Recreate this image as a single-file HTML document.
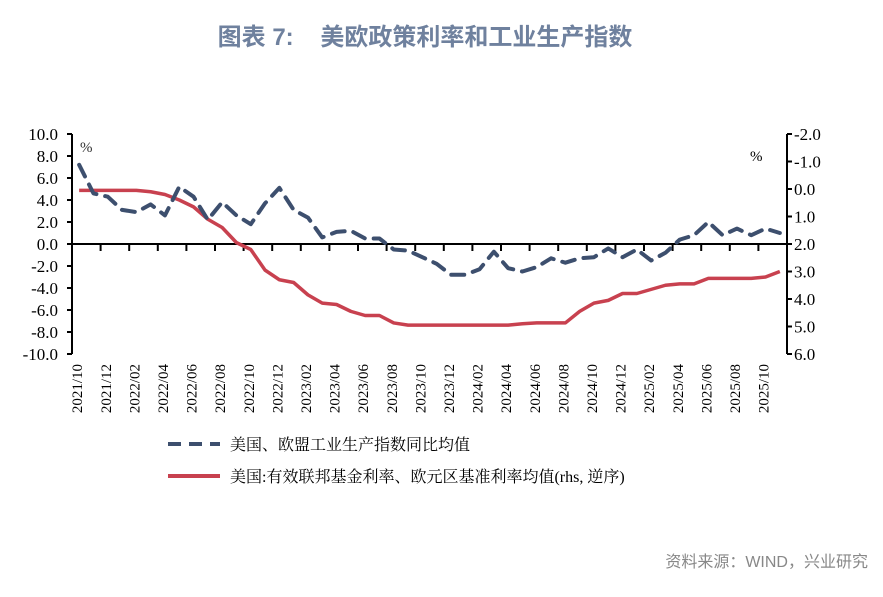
<!DOCTYPE html>
<html><head><meta charset="utf-8"><style>
body{margin:0;background:#fff;width:883px;height:592px;overflow:hidden;font-family:"Liberation Serif","Noto Serif CJK SC",serif;}
</style></head><body>
<svg id="c" width="883" height="592" xmlns="http://www.w3.org/2000/svg">
<text x="425" y="45" text-anchor="middle" font-family="Liberation Sans,Noto Sans CJK SC,sans-serif" font-size="24" font-weight="bold" fill="#6f819e">图表 7:&#160;&#160;&#160;&#160;美欧政策利率和工业生产指数</text>
<g id="axes"></g><g id="marks"></g>
<g>
<line x1="168" y1="444" x2="220" y2="444" stroke="#3d4f6e" stroke-width="4" stroke-dasharray="13,8"/>
<text x="230" y="450" font-size="16" font-family="Liberation Serif,Noto Serif CJK SC,serif" fill="#000">美国、欧盟工业生产指数同比均值</text>
<line x1="168" y1="476" x2="220" y2="476" stroke="#c8414f" stroke-width="4"/>
<text x="230" y="482" font-size="16" font-family="Liberation Serif,Noto Serif CJK SC,serif" fill="#000">美国:有效联邦基金利率、欧元区基准利率均值(rhs, 逆序)</text>
</g>
<text x="868" y="567" text-anchor="end" font-size="16" font-family="Liberation Sans,Noto Sans CJK SC,sans-serif" fill="#888">资料来源：WIND，兴业研究</text>
</svg>
<script>
const months=[];for(let y=2021,m=10;months.length<50;){months.push(y+'/'+String(m).padStart(2,'0'));m++;if(m>12){m=1;y++;}}
const leftTicks=[10,8,6,4,2,0,-2,-4,-6,-8,-10];
const rightTicks=[-2,-1,0,1,2,3,4,5,6];
const ipValues=[7.2,4.6,4.3,3.1,2.9,3.6,2.6,5.2,4.3,2.2,3.8,2.6,1.8,3.7,5.1,3.1,2.4,0.6,1.1,1.2,0.5,0.5,-0.5,-0.6,-1.2,-1.8,-2.8,-2.8,-2.3,-0.7,-2.2,-2.5,-2.1,-1.3,-1.7,-1.3,-1.2,-0.4,-1.2,-0.5,-1.5,-0.8,0.4,0.8,2.0,0.8,1.4,0.8,1.4,1.0];
const rateValues=[0.05,0.05,0.05,0.05,0.05,0.1,0.2,0.4,0.65,1.1,1.4,1.95,2.2,2.95,3.3,3.4,3.85,4.15,4.2,4.45,4.6,4.6,4.87,4.95,4.95,4.95,4.95,4.95,4.95,4.95,4.95,4.9,4.87,4.87,4.87,4.45,4.15,4.05,3.8,3.8,3.65,3.5,3.45,3.45,3.25,3.25,3.25,3.25,3.2,3.0];
const X0=72,X1=787,TOP=134,BOT=354;
const step=(X1-X0)/months.length;
const xs=i=>X0+step*(i+0.5);
const yL=v=>TOP+(10-v)/20*(BOT-TOP);
const yR=v=>TOP+(v+2)/8*(BOT-TOP);
const NS='http://www.w3.org/2000/svg';
const ax=document.getElementById('axes'),mk=document.getElementById('marks');
function el(t,a,p){const e=document.createElementNS(NS,t);for(const k in a)e.setAttribute(k,a[k]);p.appendChild(e);return e;}
let e=el('line',{x1:X0,y1:TOP,x2:X0,y2:BOT,stroke:'#000','stroke-width':2},ax);


e=el('line',{x1:X1,y1:TOP,x2:X1,y2:BOT,stroke:'#000','stroke-width':2},ax);


e=el('line',{x1:X0,y1:yL(0),x2:X1,y2:yL(0),stroke:'#000','stroke-width':2},ax);


leftTicks.forEach(v=>{const y=yL(v);el('line',{x1:X0-5,y1:y,x2:X0,y2:y,stroke:'#000','stroke-width':2},ax);
const t=el('text',{x:X0-14,y:y+6,'text-anchor':'end','font-size':17,fill:'#000'},ax);t.textContent=v.toFixed(1);

});
rightTicks.forEach(v=>{const y=yR(v);el('line',{x1:X1,y1:y,x2:X1+5,y2:y,stroke:'#000','stroke-width':2},ax);
const t=el('text',{x:X1+7,y:y+6,'font-size':17,fill:'#000'},ax);t.textContent=v.toFixed(1);

});
for(let i=0;i<=months.length;i+=2){const x=X0+step*i;el('line',{x1:x,y1:yL(0),x2:x,y2:yL(0)+7,stroke:'#000','stroke-width':2},ax);}
months.forEach((m,i)=>{if(i%2)return;const x=xs(i)-2;const t=el('text',{x:0,y:0,'text-anchor':'end','font-size':15,fill:'#000',transform:`translate(${x+5},364) rotate(-90)`},ax);t.textContent=m;

});
let t=el('text',{x:80,y:152,'font-size':15,fill:'#333'},ax);t.textContent='%';


t=el('text',{x:750,y:161,'font-size':15,fill:'#000'},ax);t.textContent='%';


const rp=el('polyline',{points:rateValues.map((v,i)=>xs(i)+','+yR(v)).join(' '),fill:'none',stroke:'#c8414f','stroke-width':3.5,'stroke-linejoin':'round'},mk);


const bp=el('polyline',{points:ipValues.map((v,i)=>xs(i)+','+yL(v)).join(' '),fill:'none',stroke:'#3d4f6e','stroke-width':4,'stroke-dasharray':'13,9','stroke-linecap':'round','stroke-linejoin':'round'},mk);


</script>
</body></html>
